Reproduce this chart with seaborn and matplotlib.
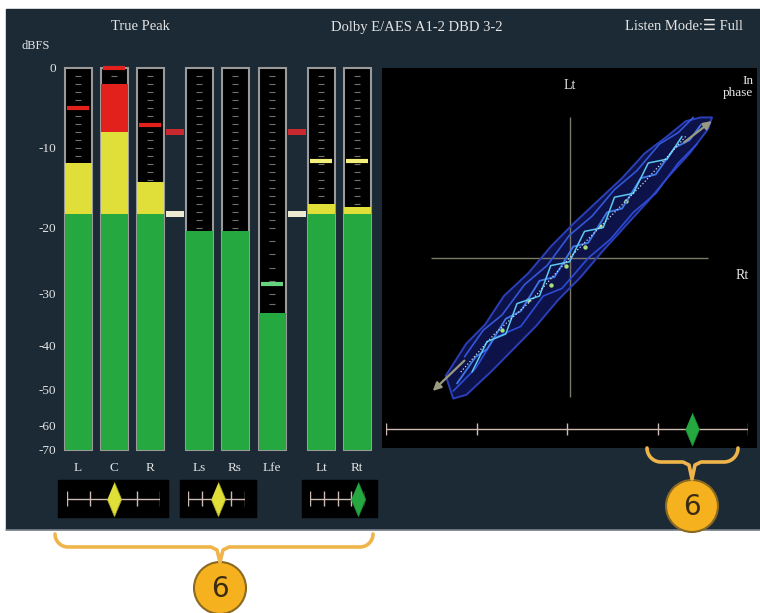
import numpy as np
import pandas as pd
import seaborn as sns
import matplotlib.pyplot as plt
from matplotlib.patches import Rectangle, Circle

# ---- values ----
channels = ["L", "C", "R", "Ls", "Rs", "Lfe", "Lt", "Rt"]
levels = [-11.9, -2.0, -14.3, -20.5, -20.5, -33.6, -17.0, -17.4]
peak_hold = [-5.0, 0.0, -7.1, np.nan, np.nan, -28.5, -11.6, -11.6]
test_level = -18.3
peak_limit = -8.0
scale_ticks = [0, -10, -20, -30, -40, -50, -60, -70]
scale_labels = ["0", "-10", "-20", "-30", "-40", "-50", "-60", "-70"]

phase_values = [0.0, 0.05, 0.75]
lissajous_phase = 0.69

# lissajous (Rt across, Lt up), normalised to +-1
band_x = [-0.66, -0.55, -0.45, -0.35, -0.22, -0.10, 0.02, 0.15, 0.28, 0.40, 0.52, 0.62, 0.70, 0.76,
          0.74, 0.64, 0.52, 0.42, 0.30, 0.18, 0.06, -0.06, -0.18, -0.30, -0.42, -0.55, -0.62]
band_y = [-0.62, -0.45, -0.35, -0.20, -0.08, 0.06, 0.18, 0.30, 0.42, 0.55, 0.64, 0.72, 0.74, 0.74,
          0.68, 0.55, 0.42, 0.30, 0.17, 0.04, -0.10, -0.22, -0.36, -0.48, -0.60, -0.72, -0.74]
trace1_x = [-0.60, -0.50, -0.44, -0.34, -0.26, -0.16, -0.08, 0.02, 0.10, 0.20, 0.28, 0.38, 0.46, 0.56, 0.64, 0.70]
trace1_y = [-0.66, -0.52, -0.48, -0.32, -0.28, -0.12, -0.10, 0.06, 0.08, 0.24, 0.26, 0.42, 0.44, 0.58, 0.62, 0.70]
trace2_x = [-0.52, -0.44, -0.34, -0.28, -0.16, -0.10, 0.00, 0.08, 0.18, 0.24, 0.34, 0.42, 0.52, 0.60]
trace2_y = [-0.60, -0.44, -0.40, -0.24, -0.20, -0.04, -0.02, 0.14, 0.16, 0.32, 0.34, 0.50, 0.52, 0.64]
trace3_x = [-0.58, -0.40, -0.20, 0.00, 0.20, 0.40, 0.62]
trace3_y = [-0.60, -0.40, -0.22, 0.00, 0.20, 0.40, 0.64]
trace4_x = [-0.62, -0.50, -0.40, -0.26, -0.14, -0.04, 0.10, 0.22, 0.34, 0.46, 0.58, 0.68]
trace4_y = [-0.70, -0.58, -0.42, -0.36, -0.20, -0.16, 0.00, 0.10, 0.24, 0.34, 0.50, 0.60]
trace5_x = [-0.56, -0.46, -0.36, -0.24, -0.12, 0.00, 0.12, 0.24, 0.36, 0.48, 0.58, 0.66]
trace5_y = [-0.52, -0.38, -0.30, -0.14, -0.04, 0.12, 0.22, 0.36, 0.46, 0.60, 0.66, 0.74]
spot_x = [-0.36, -0.22, -0.10, -0.02, 0.08, 0.16, 0.30]
spot_y = [-0.38, -0.22, -0.14, -0.04, 0.06, 0.17, 0.30]

# ---- layout (pixels) ----
W, H = 760, 613
meter_x = [78, 114, 150, 199, 235, 272, 321, 357]
scale_px = [450, 425, 390, 346, 294, 228, 148, 68]   # pixel rows of -70 .. 0
DB_REF = np.array([-73.2] + scale_ticks[::-1] + [1.0])
PX_REF = -np.array([458] + scale_px + [60], dtype=float)

PANEL = "#1b2a35"
GREEN = "#25a83f"
YELLOW = "#e0df3a"
RED = "#e2211c"
FRAME = "#9a9a9a"
TEXT = "#e4e4e4"
ORANGE = "#f6b11f"

sns.set_style("dark")
plt.rcParams["font.family"] = ["Liberation Serif", "DejaVu Sans"]

fig = plt.figure(figsize=(7.6, 6.13), dpi=100, facecolor="white")


def px_axes(x0, y0, x1, y1):
    a = fig.add_axes([x0 / W, 1 - y1 / H, (x1 - x0) / W, (y1 - y0) / H])
    a.set_facecolor("none")
    a.grid(False)
    for s in a.spines.values():
        s.set_visible(False)
    return a


def zone_color(v):
    if v > peak_limit:
        return RED
    if v > test_level:
        return "#f2f07a"
    return "#66d47e"


def brace(ax, x0, x1, xt, ytop, ymid, ytip):
    r = ymid - ytop
    t = np.linspace(0, np.pi / 2, 12)
    left = list(zip(x0 + r - r * np.cos(t), ytop + r * np.sin(t)))
    right = list(zip(x1 - r + r * np.cos(t[::-1]), ytop + r * np.sin(t[::-1])))
    mid = [(xt - 9, ymid), (xt - 3, ymid + 3), (xt, ytip), (xt + 3, ymid + 3), (xt + 9, ymid)]
    pts = np.array(left + mid + right)
    ax.plot(pts[:, 0], pts[:, 1], color="#f0b54a", lw=2.6, solid_capstyle="round")


# background / panel
bg = fig.add_axes([0, 0, 1, 1])
bg.set_xlim(0, W)
bg.set_ylim(H, 0)
bg.axis("off")
bg.add_patch(Rectangle((6, 9), W - 6, 520, color=PANEL))
bg.plot([6, W], [529.5, 529.5], color="#7c848c", lw=1.2)

bg.text(140, 27, "True Peak", color=TEXT, fontsize=10.5, ha="center", va="center")
bg.text(417, 27, "Dolby E/AES A1-2 DBD 3-2", color=TEXT, fontsize=10.5, ha="center", va="center")
bg.text(743, 27, "Listen Mode:☰ Full", color=TEXT, fontsize=10.5, ha="right", va="center")
bg.text(21, 46, "dBFS", color=TEXT, fontsize=9, ha="left", va="center")

# phase meter boxes under the bars
for x0, x1 in [(58, 168), (180, 256), (302, 377)]:
    bg.add_patch(Rectangle((x0, 480), x1 - x0, 37, color="black"))

# ---- level meters ----
meter = pd.DataFrame({"x": meter_x, "level": levels, "peak": peak_hold})
meter["frame"] = 70.0
meter["red"] = meter["level"] + 70
meter["yellow"] = np.minimum(meter["level"], peak_limit) + 70
meter["green"] = np.minimum(meter["level"], test_level) + 70

ax = px_axes(60, 60, 380, 458)
common = dict(data=meter, x="x", native_scale=True, orient="x", width=0.75,
              bottom=-70, saturation=1, errorbar=None, ax=ax)
sns.barplot(y="frame", color="black", edgecolor=FRAME, linewidth=1.5, zorder=1, **common)
dash_levels = [-v for v in range(1, 20)] + [-v for v in range(20, 42, 2)]
for x in meter_x:
    ax.hlines(dash_levels, x - 3, x + 3, color="#707070", lw=0.8, zorder=2)
sns.barplot(y="red", color=RED, linewidth=0, zorder=3, **common)
sns.barplot(y="yellow", color=YELLOW, linewidth=0, zorder=3, **common)
sns.barplot(y="green", color=GREEN, linewidth=0, zorder=3, **common)

for x, p in zip(meter_x, peak_hold):
    if not np.isnan(p):
        ax.hlines(p, x - 11, x + 11, color=zone_color(p), lw=3, zorder=4)

# threshold pills in the gaps between channel groups
gaps = [(meter_x[2] + meter_x[3]) / 2, (meter_x[5] + meter_x[6]) / 2]
pill = [(-1.5, -0.5), (1.5, -0.5), (1.5, 0.5), (-1.5, 0.5)]
sns.scatterplot(x=gaps, y=[peak_limit] * 2, marker=pill, s=180, color="#c8282e",
                linewidth=0, zorder=4, ax=ax)
sns.scatterplot(x=gaps, y=[test_level] * 2, marker=pill, s=180, color="#ecebd2",
                linewidth=0, zorder=4, ax=ax)

ax.set_yscale("function", functions=(lambda v: np.interp(v, DB_REF, PX_REF),
                                     lambda v: np.interp(v, PX_REF, DB_REF)))
ax.set_xlim(60, 380)
ax.set_ylim(DB_REF[0], DB_REF[-1])
ax.set_yticks(scale_ticks, scale_labels)
ax.set_xticks(meter_x, channels)
ax.tick_params(axis="y", length=0, pad=3, labelcolor=TEXT, labelsize=9.5)
ax.tick_params(axis="x", length=0, pad=3, labelcolor=TEXT, labelsize=9.5)
ax.set_xlabel("")
ax.set_ylabel("")

# ---- small phase correlation bars ----
DIAMOND = [(0, 1), (0.42, 0), (0, -1), (-0.42, 0)]
for (x0, x1), v in zip([(67, 160), (188, 245), (310, 365)], phase_values):
    pa = px_axes(x0, 480, x1, 517)
    pa.hlines(0, -1, 1, color="#cdbab2", lw=1)
    pa.vlines([-1, -0.5, 0, 0.5, 1], -0.4, 0.4, color="#cdbab2", lw=1)
    col, edge = (GREEN, "#1f8a35") if v >= 0.5 else (YELLOW, "#a8a82a")
    sns.scatterplot(x=[v], y=[0], marker=DIAMOND, s=600, color=col, edgecolor=edge,
                    linewidth=0.6, clip_on=False, zorder=3, ax=pa)
    pa.set_xlim(-1, 1)
    pa.set_ylim(-1, 1)
    pa.set_xticks([])
    pa.set_yticks([])
    pa.set_xlabel("")
    pa.set_ylabel("")

# ---- lissajous display ----
la = px_axes(382, 68, 757, 448)
la.set_facecolor("black")
la.vlines(0, -0.73, 0.74, color="#7a7a6a", lw=1)
la.hlines(0, -0.74, 0.74, color="#7a7a6a", lw=1)
la.fill(band_x, band_y, color="#16207a", alpha=0.6, lw=0)
sns.lineplot(x=band_x + band_x[:1], y=band_y + band_y[:1], sort=False, estimator=None,
             color="#2a3fb8", lw=1.4, ax=la)
sns.lineplot(x=trace4_x, y=trace4_y, sort=False, estimator=None, color="#2c4cd8", lw=1.2, ax=la)
sns.lineplot(x=trace5_x, y=trace5_y, sort=False, estimator=None, color="#3357d8", lw=1.2, ax=la)
sns.lineplot(x=trace1_x, y=trace1_y, sort=False, estimator=None, color="#3f78ea", lw=1.3, ax=la)
sns.lineplot(x=trace2_x, y=trace2_y, sort=False, estimator=None, color="#5cc8f2", lw=1.1, ax=la)
sns.lineplot(x=trace3_x, y=trace3_y, sort=False, estimator=None, color="#c8e0f0", lw=0.9,
             linestyle=":", ax=la)
sns.scatterplot(x=spot_x, y=spot_y, color="#a6e27a", s=10, linewidth=0, ax=la)
arrow = dict(arrowstyle="-|>", color="#9a9a82", lw=1.6, mutation_scale=12)
la.annotate("", xy=(-0.74, -0.71), xytext=(-0.55, -0.53), arrowprops=arrow)
la.annotate("", xy=(0.77, 0.73), xytext=(0.60, 0.60), arrowprops=arrow)
la.text(0.0, 0.91, "Lt", color=TEXT, fontsize=10, ha="center", va="center")
la.text(0.98, 0.90, "In\nphase", color=TEXT, fontsize=9.5, ha="right", va="center", linespacing=0.9)
la.text(0.92, -0.09, "Rt", color=TEXT, fontsize=10, ha="center", va="center")
la.set_xlim(-1, 1)
la.set_ylim(-1, 1)
la.set_xticks([])
la.set_yticks([])
la.set_xlabel("")
la.set_ylabel("")

pb = px_axes(386, 410, 748, 448)
pb.hlines(0, -1, 1, color="#cdbab2", lw=1)
pb.vlines([-1, -0.5, 0, 0.5, 1], -0.3, 0.3, color="#cdbab2", lw=1)
sns.scatterplot(x=[lissajous_phase], y=[0], marker=DIAMOND, s=560, color=GREEN,
                edgecolor="#1f8a35", linewidth=0.6, zorder=3, clip_on=False, ax=pb)
pb.set_xlim(-1, 1)
pb.set_ylim(-1, 1)
pb.set_xticks([])
pb.set_yticks([])
pb.set_xlabel("")
pb.set_ylabel("")

# ---- callouts ----
top = fig.add_axes([0, 0, 1, 1])
top.set_xlim(0, W)
top.set_ylim(H, 0)
top.axis("off")
brace(top, 55, 373, 220, 534, 547, 562)
brace(top, 647, 738, 692, 448, 462, 479)
for cx, cy in [(220, 588), (692, 506)]:
    top.add_patch(Circle((cx, cy), 26, facecolor=ORANGE, edgecolor="#8a6a22", lw=1.5))
    top.text(cx, cy + 1, "6", fontsize=20, family="DejaVu Sans", color="#3a2c12",
             ha="center", va="center")

fig.savefig("out.png", dpi=100, facecolor="white")
